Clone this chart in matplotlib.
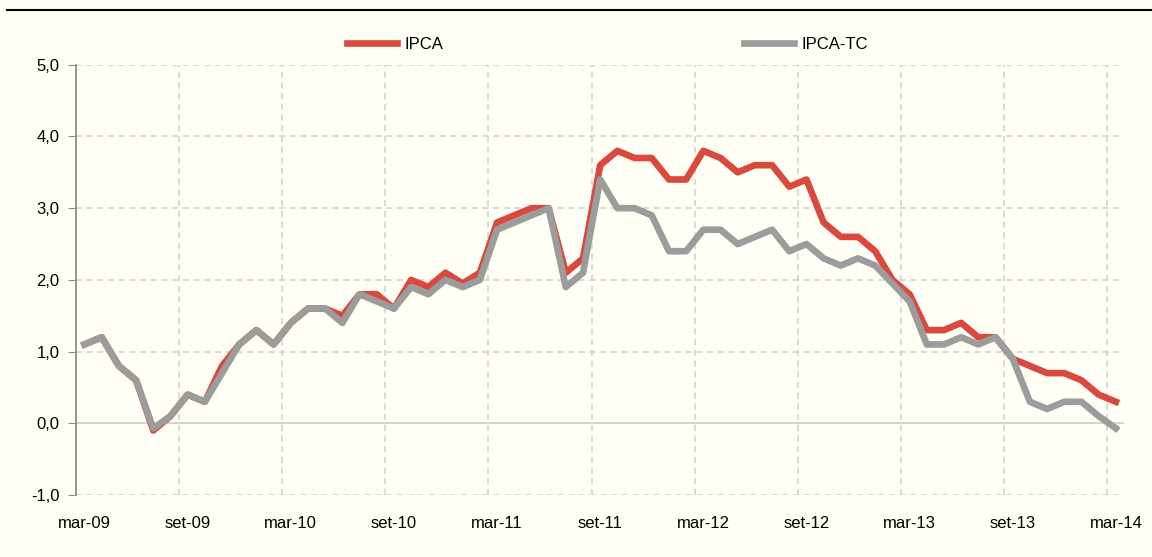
import matplotlib.pyplot as plt
from matplotlib.lines import Line2D
import numpy as np

plt.rcParams['font.family'] = ['Liberation Sans Narrow', 'Liberation Sans', 'DejaVu Sans']

# monthly, mar-09 .. mar-14
ipca = [1.1, 1.2, 0.8, 0.6, -0.1, 0.1, 0.4, 0.3, 0.8, 1.1, 1.3, 1.1,
        1.4, 1.6, 1.6, 1.5, 1.8, 1.8, 1.6, 2.0, 1.9, 2.1, 1.95, 2.1,
        2.8, 2.9, 3.0, 3.0, 2.1, 2.3, 3.6, 3.8, 3.7, 3.7, 3.4, 3.4,
        3.8, 3.7, 3.5, 3.6, 3.6, 3.3, 3.4, 2.8, 2.6, 2.6, 2.4, 2.0,
        1.8, 1.3, 1.3, 1.4, 1.2, 1.2, 0.9, 0.8, 0.7, 0.7, 0.6, 0.4, 0.3]
ipca_tc = [1.1, 1.2, 0.8, 0.6, -0.07, 0.1, 0.4, 0.3, 0.7, 1.1, 1.3, 1.1,
           1.4, 1.6, 1.6, 1.4, 1.8, 1.7, 1.6, 1.9, 1.8, 2.0, 1.9, 2.0,
           2.7, 2.8, 2.9, 3.0, 1.9, 2.1, 3.4, 3.0, 3.0, 2.9, 2.4, 2.4,
           2.7, 2.7, 2.5, 2.6, 2.7, 2.4, 2.5, 2.3, 2.2, 2.3, 2.2, 1.95,
           1.7, 1.1, 1.1, 1.2, 1.1, 1.2, 0.9, 0.3, 0.2, 0.3, 0.3, 0.1, -0.07]
tick_labels = ['mar-09', 'set-09', 'mar-10', 'set-10', 'mar-11', 'set-11',
               'mar-12', 'set-12', 'mar-13', 'set-13', 'mar-14']

bg = '#FFFFF5'
red = '#D9493D'
gray = '#9C9C9C'
grid_c = '#D0D0D0'

x = np.arange(len(ipca))

fig = plt.figure(figsize=(11.52, 5.57), dpi=100, facecolor=bg)
ax = fig.add_axes([0.0659, 0.1113, 0.9102, 0.7724])
ax.set_facecolor(bg)

ax.plot(x, ipca, color=red, lw=4.8, label='IPCA', solid_joinstyle='round', zorder=3)
ax.plot(x, ipca_tc, color=gray, lw=4.8, label='IPCA-TC', solid_joinstyle='round', zorder=4)

ax.set_xlim(-0.5, len(ipca) - 0.5)
ax.set_ylim(-1, 5)
ax.set_yticks(np.arange(-1, 6, 1))
ax.set_yticklabels([f'{v:.1f}'.replace('.', ',') for v in np.arange(-1, 6, 1)])
ax.set_xticks(np.arange(0, len(ipca), 6))
ax.set_xticklabels(tick_labels)
ax.set_xticks(np.arange(5.5, len(ipca), 6), minor=True)

for v in range(-1, 6):
    if v == 0:
        ax.axhline(v, color=grid_c, lw=1.3, zorder=1)
    else:
        ax.axhline(v, color=grid_c, lw=1.1, ls=(0, (4, 3)), zorder=1)
ax.grid(axis='x', which='minor', color=grid_c, lw=1.1, ls=(0, (4, 3)), zorder=1)

for s in ['top', 'right', 'bottom']:
    ax.spines[s].set_visible(False)
ax.spines['left'].set_color('#8C8C8C')
ax.spines['left'].set_linewidth(1.3)
ax.tick_params(axis='y', length=6, color='#8C8C8C', labelsize=12, pad=6)
ax.tick_params(axis='x', which='both', length=0, labelsize=12, pad=15)

ax.legend(loc='center', bbox_to_anchor=(0.507, 1.048), ncol=2, frameon=False,
          fontsize=12, handlelength=3.0, columnspacing=18.0, handletextpad=0.45)

fig.add_artist(Line2D([0.006, 1.0], [0.982, 0.982], color='black', lw=1.5,
                      transform=fig.transFigure))

fig.savefig('out.png', dpi=100, facecolor=bg)
